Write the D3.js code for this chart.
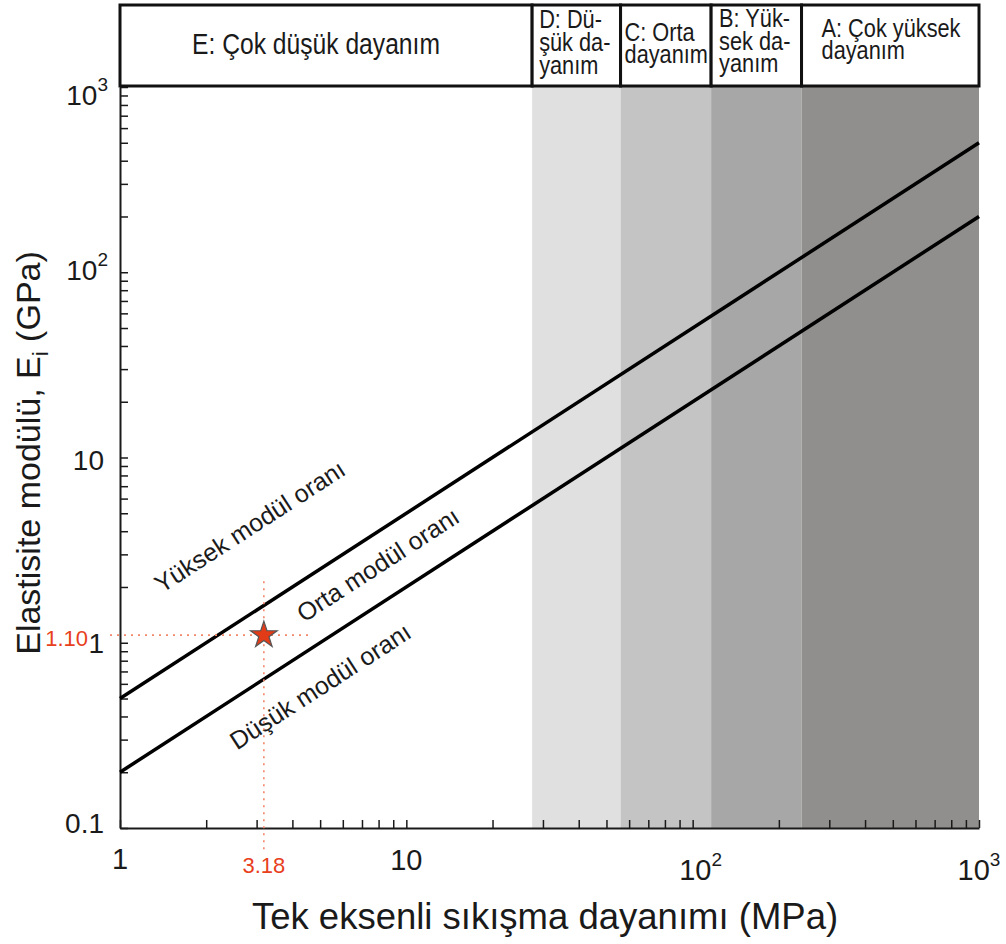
<!DOCTYPE html>
<html>
<head>
<meta charset="utf-8">
<script src="https://cdn.jsdelivr.net/npm/d3@7"></script>
<style>
  body { margin: 0; background: #fff; }
  svg { display: block; }
  text { font-family: "Liberation Sans", Arial, sans-serif; fill: #1a1a1a; }
</style>
</head>
<body>
<div id="container"></div>
<script>
let w = 1006;
let h = 944;

// strength classes (Deere & Miller) - boundaries in MPa
const classBounds = [1, 27.5, 56, 116, 240, 1000];
const classLabels = [
  ["E: Çok düşük dayanım"],
  ["D: Dü-", "şük da-", "yanım"],
  ["C: Orta", "dayanım"],
  ["B: Yük-", "sek da-", "yanım"],
  ["A: Çok yüksek", "dayanım"]
];
const classColors = ["#ffffff", "#e0e0e0", "#c4c4c4", "#a7a7a7", "#908f8d"];

// modulus ratio lines: [UCS MPa, E GPa]
const highRatioLine = [[1, 0.5], [1000, 500]];
const lowRatioLine = [[1, 0.2], [1000, 200]];

// line labels: text, [UCS, E] of baseline start
const ratioLabels = [
  {text: "Yüksek modül oranı", at: [1.40, 1.84]},
  {text: "Orta modül oranı", at: [4.39, 1.28]},
  {text: "Düşük modül oranı", at: [2.56, 0.262]}
];

// the sample
const sampleUcs = 3.18;
const sampleE = 1.10;
const guideTopE = 2.15;
const guideRightUcs = 4.7;

const xTickValues = [1, 10, 100, 1000];
const xTickText = [["1", ""], ["10", ""], ["10", "2"], ["10", "3"]];
const yTickValues = [0.1, 1, 10, 100, 1000];
const yTickText = [["0.1", ""], ["1", ""], ["10", ""], ["10", "2"], ["10", "3"]];

const xTitle = "Tek eksenli sıkışma dayanımı (MPa)";

// layout
let plotLeft = 120, plotRight = 979, plotTop = 87, plotBottom = 828;
let headerTop = 5;

let x = d3.scaleLog().domain([1, 1000]).range([plotLeft, plotRight]);
let y = d3.scaleLog().domain([0.1, 1000]).range([plotBottom, plotTop]);

let svg = d3.select("#container")
  .append("svg")
    .attr("width", w)
    .attr("height", h);

// grey bands
svg.append("g")
  .selectAll("rect")
  .data(classColors.slice(1))
  .join("rect")
    .attr("x", (d, i) => x(classBounds[i + 1]))
    .attr("width", (d, i) => x(classBounds[i + 2]) - x(classBounds[i + 1]))
    .attr("y", y(1000))
    .attr("height", y(0.1) - y(1000))
    .attr("fill", d => d);

// axes with inward minor ticks
let xAxis = d3.axisBottom(x).tickValues(x.ticks()).tickSizeInner(-8).tickSizeOuter(0).tickFormat("");
let yAxis = d3.axisLeft(y).tickValues(y.ticks()).tickSizeInner(-8).tickSizeOuter(0).tickFormat("");

let gx = svg.append("g").attr("transform", `translate(0,${plotBottom})`).call(xAxis);
let gy = svg.append("g").attr("transform", `translate(${plotLeft},0)`).call(yAxis);
[gx, gy].forEach(g => {
  g.select(".domain").attr("stroke", "#1a1a1a").attr("stroke-width", 2);
  g.selectAll(".tick line").attr("stroke", "#1a1a1a").attr("stroke-width", 1.5);
});

// header boxes
let header = svg.append("g");
header.selectAll("rect")
  .data(classLabels)
  .join("rect")
    .attr("x", (d, i) => x(classBounds[i]))
    .attr("y", headerTop)
    .attr("width", (d, i) => x(classBounds[i + 1]) - x(classBounds[i]))
    .attr("height", plotTop - 1 - headerTop)
    .attr("fill", "#fff")
    .attr("stroke", "#111")
    .attr("stroke-width", 3);

const headerDx = [72, 7, 4, 8, 20];
const headerBase = [[54], [28, 51, 74], [41, 63], [27, 50, 72], [37, 59]];
header.selectAll("text")
  .data(classLabels)
  .join("text")
    .attr("transform", (d, i) => `translate(${x(classBounds[i]) + headerDx[i]},0) scale(${i == 0 ? 0.85 : 0.87},1)`)
    .attr("font-size", (d, i) => i == 0 ? 29 : 25)
    .each(function(lines, i) {
      d3.select(this).selectAll("tspan")
        .data(lines)
        .join("tspan")
          .attr("x", 0)
          .attr("y", (d, j) => headerBase[i][j])
          .text(d => d);
    });

// modulus ratio lines
let line = d3.line().x(d => x(d[0])).y(d => y(d[1]));
svg.append("g")
  .selectAll("path")
  .data([highRatioLine, lowRatioLine])
  .join("path")
    .attr("d", line)
    .attr("fill", "none")
    .attr("stroke", "#000")
    .attr("stroke-width", 3.5);

let angle = Math.atan2(y(highRatioLine[1][1]) - y(highRatioLine[0][1]), x(highRatioLine[1][0]) - x(highRatioLine[0][0])) * 180 / Math.PI;
svg.append("g")
  .selectAll("text")
  .data(ratioLabels)
  .join("text")
    .attr("transform", d => `translate(${x(d.at[0])},${y(d.at[1])}) rotate(${angle})`)
    .attr("font-size", 25)
    .attr("fill", "#222")
    .text(d => d.text);

// sample guides
let guides = svg.append("g")
  .attr("stroke", "#f2876a")
  .attr("stroke-width", 1.6)
  .attr("stroke-dasharray", "2,5");
guides.append("line")
  .attr("x1", x(sampleUcs)).attr("x2", x(sampleUcs))
  .attr("y1", y(guideTopE)).attr("y2", y(0.1) + 22);
guides.append("line")
  .attr("x1", x(1) - 10).attr("x2", x(guideRightUcs))
  .attr("y1", y(sampleE)).attr("y2", y(sampleE));

svg.append("path")
  .attr("d", d3.symbol(d3.symbolStar, 220))
  .attr("transform", `translate(${x(sampleUcs)},${y(sampleE)})`)
  .attr("fill", "#e23b17")
  .attr("stroke", "#555")
  .attr("stroke-width", 1.2);

svg.append("text")
  .attr("x", x(sampleUcs)).attr("y", y(0.1) + 45)
  .attr("text-anchor", "middle").attr("font-size", 22)
  .style("fill", "#e8401c")
  .text(sampleUcs.toFixed(2));
svg.append("text")
  .attr("x", x(1) - 32).attr("y", y(sampleE) + 11)
  .attr("text-anchor", "end").attr("font-size", 22)
  .style("fill", "#e8401c")
  .text(sampleE.toFixed(2));

// tick labels
function tickLabel(sel, t) {
  sel.append("tspan").text(t[0]);
  if (t[1]) sel.append("tspan").attr("font-size", 19).attr("dy", -14).text(t[1]);
}
const xLabelBase = [869, 870, 880, 880];
svg.append("g")
  .selectAll("text")
  .data(xTickValues)
  .join("text")
    .attr("x", (d, i) => x(d) + (i == 2 ? 8 : 0))
    .attr("y", (d, i) => xLabelBase[i])
    .attr("text-anchor", "middle")
    .attr("font-size", 29)
    .each(function(d, i) { tickLabel(d3.select(this), xTickText[i]); });

const yLabelDy = [5, 10, 12, 8, 18];
svg.append("g")
  .selectAll("text")
  .data(yTickValues)
  .join("text")
    .attr("x", (d, i) => yTickText[i][1] ? 108 : 104)
    .attr("y", (d, i) => y(d) + yLabelDy[i])
    .attr("text-anchor", "end")
    .attr("font-size", 28)
    .each(function(d, i) { tickLabel(d3.select(this), yTickText[i]); });

// axis titles
svg.append("text")
  .attr("x", 545).attr("y", 929)
  .attr("text-anchor", "middle")
  .attr("font-size", 36.5)
  .text(xTitle);

let yt = svg.append("text")
  .attr("transform", "translate(40,453) rotate(-90)")
  .attr("text-anchor", "middle")
  .attr("font-size", 34);
yt.append("tspan").text("Elastisite modülü, E");
yt.append("tspan").attr("font-size", 22).attr("dy", 8).text("i");
yt.append("tspan").attr("dy", -8).text(" (GPa)");
</script>
</body>
</html>
